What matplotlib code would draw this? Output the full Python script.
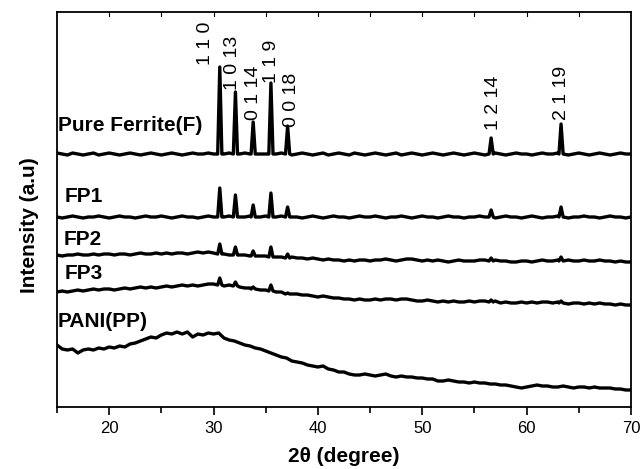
import numpy as np
import matplotlib
matplotlib.use("Agg")
import matplotlib.pyplot as plt
from matplotlib.ticker import MultipleLocator

plt.rcParams['font.family'] = ['Liberation Sans', 'DejaVu Sans']

# 2-theta grid of the baselines (degrees)
two_theta = np.arange(15.0, 70.001, 0.5)

# baseline intensities (a.u.), one value per grid point
ferrite_base = [
    254, 253, 252, 254, 253, 252, 253, 254, 252, 253,
    254, 253, 252, 253, 254, 253, 252, 253, 254, 253,
    252, 253, 254, 253, 252, 253, 254, 253, 253, 254,
    253, 254, 253, 254, 253, 253, 254, 253, 254, 253,
    253, 254, 253, 254, 253, 252, 253, 254, 253, 252,
    253, 254, 252, 253, 254, 253, 252, 254, 253, 252,
    253, 254, 253, 252, 253, 254, 252, 253, 254, 253,
    252, 253, 254, 253, 252, 253, 254, 253, 252, 253,
    254, 253, 252, 253, 254, 253, 252, 253, 254, 253,
    253, 252, 253, 254, 253, 253, 254, 253, 252, 253,
    254, 253, 252, 253, 254, 253, 252, 253, 254, 253,
    253]
fp1_base = [
    190, 189, 190, 191, 190, 189, 190, 190, 191, 190,
    189, 190, 191, 190, 190, 189, 190, 191, 190, 190,
    191, 190, 189, 190, 191, 190, 190, 189, 190, 191,
    190, 190, 190, 191, 190, 190, 190, 191, 190, 190,
    191, 190, 190, 191, 190, 190, 190, 189, 190, 191,
    190, 189, 190, 191, 190, 190, 189, 190, 191, 190,
    190, 191, 190, 189, 190, 190, 191, 190, 189, 190,
    191, 190, 190, 189, 190, 191, 190, 190, 189, 190,
    190, 191, 190, 190, 189, 190, 191, 190, 190, 189,
    190, 191, 190, 189, 190, 190, 191, 190, 189, 190,
    190, 191, 190, 190, 189, 190, 191, 190, 190, 189,
    190]
fp2_base = [
    152, 151, 152, 152, 153, 152, 152, 153, 152, 153,
    153, 152, 153, 153, 152, 153, 154, 153, 153, 154,
    153, 154, 153, 154, 154, 153, 154, 155, 154, 155,
    154, 154, 153, 152, 153, 152, 152, 151, 152, 151,
    151, 150, 150, 150, 149, 150, 149, 149, 148, 149,
    148, 147, 148, 147, 147, 146, 147, 146, 147, 147,
    146, 147, 147, 148, 147, 146, 147, 148, 148, 147,
    146, 147, 146, 147, 146, 145, 146, 147, 146, 146,
    146, 147, 147, 146, 147, 146, 146, 145, 145, 146,
    146, 145, 146, 147, 146, 146, 147, 146, 147, 146,
    146, 147, 146, 146, 147, 146, 146, 145, 146, 145,
    145]
fp3_base = [
    115, 116, 115, 116, 117, 116, 117, 118, 117, 118,
    118, 117, 118, 119, 118, 119, 120, 119, 120, 119,
    120, 121, 120, 121, 122, 121, 122, 121, 122, 123,
    123, 123, 121, 122, 121, 120, 119, 119, 118, 117,
    117, 116, 115, 115, 114, 113, 113, 112, 112, 111,
    110, 111, 110, 109, 109, 108, 108, 107, 108, 107,
    107, 108, 107, 108, 108, 107, 108, 108, 107, 106,
    106, 107, 106, 105, 106, 105, 106, 105, 105, 106,
    105, 106, 106, 105, 106, 104, 105, 104, 104, 105,
    104, 105, 104, 105, 105, 104, 105, 104, 103, 104,
    104, 103, 104, 103, 104, 103, 103, 102, 103, 102,
    102]
pani_base = [
    62, 58, 57, 58, 54, 57, 58, 57, 59, 58,
    60, 59, 61, 60, 63, 64, 66, 68, 70, 69,
    72, 74, 73, 75, 73, 75, 70, 73, 72, 74,
    73, 74, 69, 67, 66, 64, 62, 61, 59, 58,
    56, 54, 52, 50, 49, 46, 45, 44, 42, 41,
    40, 41, 38, 37, 35, 35, 33, 32, 32, 33,
    32, 31, 32, 33, 31, 30, 31, 30, 30, 29,
    29, 28, 28, 26, 26, 27, 26, 25, 25, 24,
    25, 24, 24, 23, 23, 22, 22, 21, 20, 19,
    20, 21, 22, 21, 21, 20, 20, 21, 20, 19,
    20, 20, 19, 20, 19, 19, 19, 18, 18, 17,
    17]

# diffraction peaks
peak_pos = [30.6, 32.1, 33.8, 35.5, 37.1, 56.6, 63.3]
peak_labels = ["1 1 0", "1 0 13", "0 1 14", "1 1 9", "0 0 18", "1 2 14", "2 1 19"]
ferrite_top = [340, 315, 285, 324, 281, 269, 283]
ferrite_pbase = [253, 253, 253, 253, 253, 253, 253]
fp1_top = [219, 212, 202, 214, 200, 197, 200]
fp1_pbase = [190, 190, 190, 190, 190, 190, 190]
fp2_top = [163, 160, 156, 160, 153, 149, 150]
fp2_pbase = [153, 152, 151, 150, 149, 146, 146]
fp3_top = [129, 125, 120, 122, 114, 107, 106]
fp3_pbase = [122, 121, 118, 116, 113, 105, 104]

# sample names
names = ["Pure Ferrite(F)", "FP1", "FP2", "FP3", "PANI(PP)"]

fig = plt.figure(figsize=(6.43, 4.69), dpi=100)
ax = fig.add_axes([0.0886, 0.1322, 0.8927, 0.8422])

half = 0.2


def build(base, tops=None, pbase=None):
    x = np.asarray(two_theta, float)
    y = np.asarray(base, float)
    if tops is None:
        return x, y
    keep = np.ones(len(x), bool)
    for p in peak_pos:
        keep &= np.abs(x - p) > 0.25
    xs = list(x[keep])
    ys = list(y[keep])
    for p, t, b in zip(peak_pos, tops, pbase):
        xs += [p - half, p, p + half]
        ys += [b, t, b]
    xs = np.array(xs)
    ys = np.array(ys)
    o = np.argsort(xs)
    return xs[o], ys[o]


series = [
    (ferrite_base, ferrite_top, ferrite_pbase),
    (fp1_base, fp1_top, fp1_pbase),
    (fp2_base, fp2_top, fp2_pbase),
    (fp3_base, fp3_top, fp3_pbase),
    (pani_base, None, None),
]
for base, tops, pb in series:
    x, y = build(base, tops, pb)
    ax.plot(x, y, color='black', lw=2.4, solid_joinstyle='round')

# sample name labels (x, baseline y)
name_x = [15.1, 15.75, 15.6, 15.75, 15.1]
name_y = [276, 205, 162, 128.5, 80]
for n, nx, ny in zip(names, name_x, name_y):
    ax.text(nx, ny, n, fontsize=15, fontweight='bold', ha='left', va='baseline')

# peak index labels
lab_x = [29.2, 31.85, 33.85, 35.6, 37.5, 56.8, 63.3]
lab_y = [342, 317, 287, 324, 280, 277, 287]
for t, lx, ly in zip(peak_labels, lab_x, lab_y):
    ax.text(lx, ly, t, fontsize=14, rotation=90, ha='center', va='bottom')

ax.set_xlim(15, 70)
ax.set_ylim(0, 395)
ax.xaxis.set_major_locator(MultipleLocator(10))
ax.xaxis.set_minor_locator(MultipleLocator(5))
ax.tick_params(axis='x', which='major', direction='out', length=6, width=1.2,
               labelsize=12, pad=4, top=False)
ax.tick_params(axis='x', which='minor', direction='out', length=4, width=1.2, top=False)
ax.set_yticks([])
for s in ax.spines.values():
    s.set_linewidth(1.3)

# inward ticks on top spine
for xv in np.arange(20, 70, 5):
    ax.plot([xv, xv], [395, 391], color='black', lw=0.8, clip_on=False)

ax.set_xlabel("2θ (degree)", fontsize=15, fontweight='bold', labelpad=8)
ax.set_ylabel("Intensity (a.u)", fontsize=15, fontweight='bold')
ax.yaxis.set_label_coords(-0.031, 0.46)

fig.savefig("out.png", dpi=100)
